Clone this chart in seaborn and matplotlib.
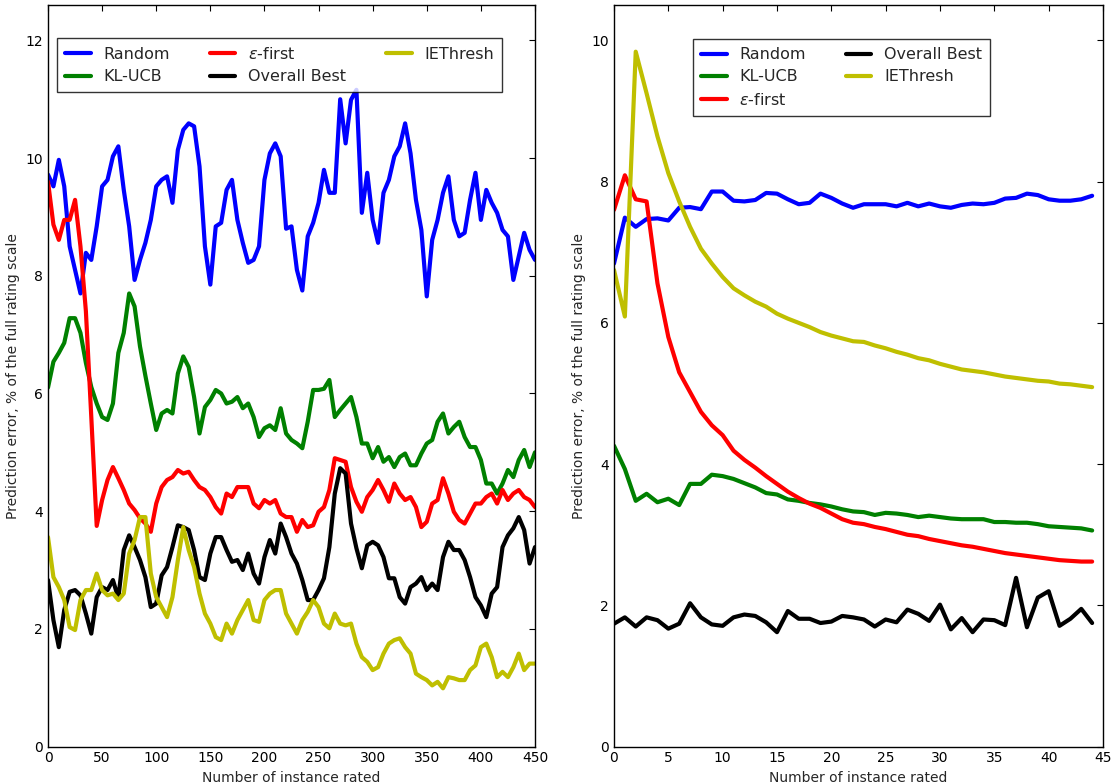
import numpy as np
import pandas as pd
import matplotlib
matplotlib.use('Agg')
import matplotlib.pyplot as plt
import seaborn as sns

# Labels / colours
METHODS = ['Random', 'KL-UCB', r'$\epsilon$-first', 'Overall Best', 'IEThresh']
COLORS = ['#0000ff', '#008000', '#ff0000', '#000000', '#bfbf00']

# Left panel: running error over rated instances (sampled every 5)
left_x = list(range(0, 451, 5))
left_random = [9.72, 9.52, 9.97, 9.52, 8.50, 8.10, 7.70, 8.39, 8.27, 8.84,
               9.52, 9.63, 10.03, 10.2, 9.46, 8.84, 7.93, 8.27, 8.56, 8.95,
               9.52, 9.63, 9.69, 9.24, 10.14, 10.48, 10.59, 10.54, 9.86, 8.50,
               7.85, 8.84, 8.90, 9.46, 9.63, 8.95, 8.56, 8.22, 8.27, 8.50,
               9.63, 10.08, 10.25, 10.03, 8.8, 8.84, 8.10, 7.75, 8.67, 8.90,
               9.24, 9.80, 9.41, 9.41, 11.0, 10.25, 10.99, 11.16, 9.07, 9.75,
               8.95, 8.56, 9.41, 9.63, 10.03, 10.2, 10.59, 10.08, 9.29, 8.78,
               7.65, 8.61, 8.95, 9.41, 9.69, 8.95, 8.67, 8.73, 9.29, 9.75,
               8.95, 9.46, 9.24, 9.07, 8.78, 8.67, 7.93, 8.33, 8.73, 8.44,
               8.27]
left_klucb = [6.1, 6.54, 6.69, 6.86, 7.28, 7.28, 7.03, 6.52, 6.11, 5.83,
              5.60, 5.55, 5.83, 6.69, 7.03, 7.70, 7.48, 6.80, 6.3, 5.83,
              5.38, 5.66, 5.72, 5.66, 6.34, 6.63, 6.45, 5.94, 5.32, 5.77,
              5.89, 6.06, 6.0, 5.83, 5.86, 5.94, 5.75, 5.83, 5.60, 5.26,
              5.41, 5.46, 5.38, 5.75, 5.32, 5.21, 5.15, 5.07, 5.52, 6.06,
              6.06, 6.08, 6.23, 5.60, 5.72, 5.83, 5.94, 5.60, 5.15, 5.15,
              4.90, 5.09, 4.84, 4.92, 4.75, 4.92, 4.98, 4.78, 4.78, 4.98,
              5.15, 5.21, 5.52, 5.66, 5.32, 5.43, 5.52, 5.26, 5.09, 5.09,
              4.87, 4.47, 4.47, 4.30, 4.47, 4.70, 4.58, 4.87, 5.04, 4.75,
              5.0]
left_eps = [9.60, 8.87, 8.61, 8.95, 8.95, 9.29, 8.50, 7.40, 5.60, 3.75,
            4.19, 4.53, 4.75, 4.56, 4.36, 4.13, 4.02, 3.88, 3.79, 3.65,
            4.13, 4.41, 4.53, 4.58, 4.70, 4.64, 4.67, 4.53, 4.41, 4.36,
            4.24, 4.07, 3.96, 4.30, 4.24, 4.41, 4.41, 4.41, 4.13, 4.05,
            4.19, 4.13, 4.19, 3.96, 3.90, 3.90, 3.65, 3.85, 3.73, 3.76,
            3.99, 4.07, 4.36, 4.90, 4.87, 4.84, 4.41, 4.16, 3.99, 4.24,
            4.36, 4.53, 4.36, 4.16, 4.47, 4.30, 4.19, 4.24, 4.07, 3.73,
            3.82, 4.13, 4.19, 4.56, 4.30, 3.99, 3.85, 3.79, 3.96, 4.13,
            4.13, 4.24, 4.30, 4.13, 4.36, 4.19, 4.30, 4.36, 4.24, 4.19,
            4.07]
left_best = [2.83, 2.15, 1.69, 2.32, 2.63, 2.66, 2.57, 2.26, 1.92, 2.54,
             2.71, 2.66, 2.83, 2.52, 3.34, 3.59, 3.39, 3.17, 2.88, 2.37,
             2.43, 2.91, 3.05, 3.39, 3.76, 3.73, 3.68, 3.34, 2.88, 2.83,
             3.28, 3.56, 3.56, 3.34, 3.14, 3.17, 3.0, 3.28, 2.94, 2.77,
             3.22, 3.51, 3.28, 3.79, 3.56, 3.28, 3.11, 2.83, 2.49, 2.49,
             2.66, 2.86, 3.39, 4.30, 4.73, 4.64, 3.79, 3.37, 3.03, 3.42,
             3.48, 3.42, 3.22, 2.86, 2.86, 2.54, 2.43, 2.71, 2.77, 2.88,
             2.66, 2.77, 2.66, 3.22, 3.48, 3.34, 3.34, 3.17, 2.88, 2.54,
             2.40, 2.20, 2.60, 2.71, 3.39, 3.59, 3.71, 3.90, 3.68, 3.11,
             3.39]
left_ieth = [3.56, 2.88, 2.71, 2.49, 2.03, 1.98, 2.49, 2.66, 2.66, 2.94,
             2.66, 2.57, 2.60, 2.49, 2.60, 3.28, 3.51, 3.90, 3.90, 2.94,
             2.54, 2.37, 2.20, 2.54, 3.17, 3.73, 3.34, 3.05, 2.60, 2.26,
             2.09, 1.86, 1.81, 2.09, 1.92, 2.15, 2.32, 2.49, 2.15, 2.12,
             2.49, 2.60, 2.66, 2.66, 2.26, 2.09, 1.92, 2.15, 2.29, 2.49,
             2.37, 2.09, 2.01, 2.26, 2.09, 2.06, 2.09, 1.75, 1.52, 1.44,
             1.30, 1.35, 1.58, 1.75, 1.81, 1.84, 1.69, 1.58, 1.24, 1.18,
             1.13, 1.04, 1.10, 0.99, 1.18, 1.16, 1.13, 1.13, 1.30, 1.38,
             1.69, 1.75, 1.52, 1.18, 1.27, 1.18, 1.35, 1.58, 1.30, 1.41,
             1.41]

# Right panel: averaged error per instance index
right_x = list(range(0, 45))
right_random = [6.84, 7.49, 7.36, 7.47, 7.48, 7.45, 7.63, 7.64, 7.61, 7.86,
                7.86, 7.73, 7.72, 7.74, 7.84, 7.83, 7.75, 7.68, 7.70, 7.83,
                7.77, 7.69, 7.63, 7.68, 7.68, 7.68, 7.65, 7.70, 7.65, 7.69,
                7.65, 7.63, 7.67, 7.69, 7.68, 7.70, 7.76, 7.77, 7.83, 7.81,
                7.75, 7.73, 7.73, 7.75, 7.80]
right_klucb = [4.26, 3.93, 3.48, 3.58, 3.46, 3.51, 3.42, 3.72, 3.72, 3.85,
               3.83, 3.79, 3.73, 3.67, 3.59, 3.57, 3.50, 3.48, 3.45, 3.43,
               3.40, 3.36, 3.33, 3.32, 3.28, 3.31, 3.30, 3.28, 3.25, 3.27,
               3.25, 3.23, 3.22, 3.22, 3.22, 3.18, 3.18, 3.17, 3.17, 3.15,
               3.12, 3.11, 3.10, 3.09, 3.06]
right_eps = [7.60, 8.09, 7.75, 7.72, 6.56, 5.80, 5.30, 5.02, 4.74, 4.55,
             4.41, 4.19, 4.06, 3.95, 3.83, 3.72, 3.61, 3.52, 3.44, 3.38,
             3.30, 3.22, 3.17, 3.15, 3.11, 3.08, 3.04, 3.00, 2.98, 2.94,
             2.91, 2.88, 2.85, 2.83, 2.80, 2.77, 2.74, 2.72, 2.70, 2.68,
             2.66, 2.64, 2.63, 2.62, 2.62]
right_best = [1.74, 1.83, 1.70, 1.83, 1.79, 1.67, 1.74, 2.03, 1.83, 1.73,
              1.71, 1.83, 1.87, 1.85, 1.76, 1.62, 1.92, 1.81, 1.81, 1.75,
              1.77, 1.85, 1.83, 1.80, 1.70, 1.80, 1.76, 1.94, 1.88, 1.78,
              2.01, 1.66, 1.82, 1.62, 1.80, 1.79, 1.72, 2.39, 1.69, 2.11,
              2.20, 1.71, 1.81, 1.95, 1.75]
right_ieth = [6.75, 6.09, 9.84, 9.25, 8.64, 8.12, 7.72, 7.36, 7.05, 6.84,
              6.65, 6.49, 6.39, 6.30, 6.23, 6.13, 6.06, 6.00, 5.94, 5.87,
              5.82, 5.78, 5.74, 5.73, 5.68, 5.64, 5.59, 5.55, 5.50, 5.47,
              5.42, 5.38, 5.34, 5.32, 5.30, 5.27, 5.24, 5.22, 5.20, 5.18,
              5.17, 5.14, 5.13, 5.11, 5.09]


def to_long(x, series):
    frames = []
    for name, vals in zip(METHODS, series):
        frames.append(pd.DataFrame({'x': x, 'err': vals, 'method': name}))
    return pd.concat(frames, ignore_index=True)


def style_axis(ax):
    for s in ax.spines.values():
        s.set_color('black')
        s.set_linewidth(1.0)
    ax.tick_params(direction='in', top=True, right=True, length=4,
                   width=0.8, labelsize=10, colors='black')
    ax.set_xlabel('Number of instance rated', fontsize=10)
    ax.set_ylabel('Prediction error, % of the full rating scale', fontsize=10)


def add_legend(ax, ncol, anchor):
    h, l = ax.get_legend_handles_labels()
    leg = ax.legend(h, l, ncol=ncol, loc='upper left', bbox_to_anchor=anchor,
                    borderaxespad=0, fontsize=11.5, frameon=True, fancybox=False,
                    edgecolor='black', handlelength=1.6, columnspacing=2.5,
                    labelspacing=0.45, borderpad=0.5)
    leg.get_frame().set_linewidth(1.0)


sns.set_style('white')
plt.rcParams['font.family'] = ['DejaVu Sans']
plt.rcParams['mathtext.fontset'] = 'dejavusans'

fig = plt.figure(figsize=(11.19, 7.83), dpi=100)
ax1 = fig.add_axes([0.0429, 0.0465, 0.4352, 0.947])
ax2 = fig.add_axes([0.5487, 0.0465, 0.4370, 0.947])

palette = dict(zip(METHODS, COLORS))

df_left = to_long(left_x, [left_random, left_klucb, left_eps, left_best, left_ieth])
sns.lineplot(data=df_left, x='x', y='err', hue='method', hue_order=METHODS,
             palette=palette, linewidth=3, estimator=None, ax=ax1)
ax1.set_xlim(0, 450)
ax1.set_ylim(0, 12.6)
ax1.set_xticks(range(0, 451, 50))
ax1.set_yticks(range(0, 13, 2))
style_axis(ax1)
add_legend(ax1, 3, (0.0185, 0.9555))

df_right = to_long(right_x, [right_random, right_klucb, right_eps, right_best, right_ieth])
sns.lineplot(data=df_right, x='x', y='err', hue='method', hue_order=METHODS,
             palette=palette, linewidth=3, estimator=None, ax=ax2)
ax2.set_xlim(0, 45)
ax2.set_ylim(0, 10.5)
ax2.set_xticks(range(0, 46, 5))
ax2.set_yticks(range(0, 11, 2))
style_axis(ax2)
add_legend(ax2, 2, (0.1616, 0.954))

fig.savefig('out.png', dpi=100)
